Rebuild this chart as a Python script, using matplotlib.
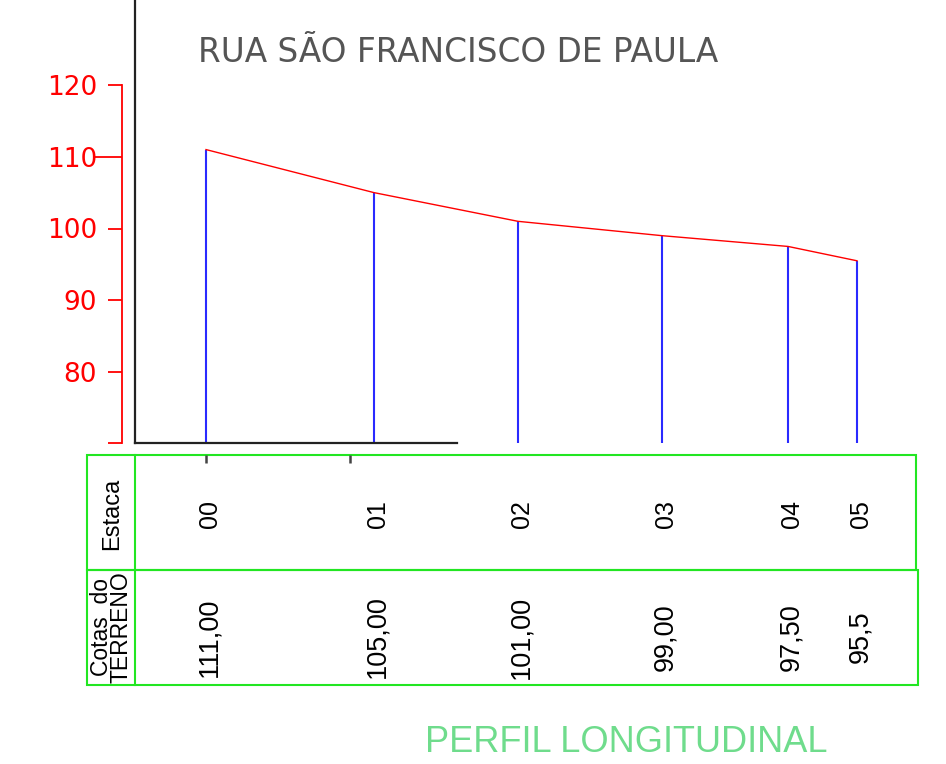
import matplotlib.pyplot as plt
from matplotlib.patches import Rectangle
from matplotlib.transforms import blended_transform_factory

# dados do perfil
estacas = ['00', '01', '02', '03', '04', '05']
distancias = [0, 28, 52, 76, 97, 108.5]
cotas = [111.0, 105.0, 101.0, 99.0, 97.5, 95.5]
cotas_txt = ['111,00', '105,00', '101,00', '99,00', '97,50', '95,5']
yticks = [80, 90, 100, 110, 120]

plt.rcParams['font.family'] = 'DejaVu Sans'

W, H = 946, 764
fig = plt.figure(figsize=(W / 100, H / 100), dpi=100)

# eixo em pixels para a tabela e textos
tab = fig.add_axes([0, 0, 1, 1], zorder=0)
tab.set_xlim(0, W)
tab.set_ylim(H, 0)
tab.axis('off')

# eixo do perfil
y0 = 80 - (443 - 372) / 7.175
y1 = 120 + 85 / 7.175
x0 = -(206 - 135) / 6
x1 = (W - 206) / 6
ax = fig.add_axes([135 / W, (H - 443) / H, (W - 135) / W, 443 / H], zorder=1)
ax.set_facecolor('none')
ax.set_xlim(x0, x1)
ax.set_ylim(y0, y1)
ax.set_xticks([])
ax.set_yticks([])
ax.spines['top'].set_visible(False)
ax.spines['right'].set_visible(False)
ax.spines['left'].set_color('#222222')
ax.spines['left'].set_linewidth(1.6)
ax.spines['bottom'].set_color('#222222')
ax.spines['bottom'].set_linewidth(1.6)
ax.spines['bottom'].set_bounds(x0, (457 - 206) / 6)

ax.vlines(distancias, y0, cotas, color='#2a2aff', lw=1.5)
ax.plot(distancias, cotas, color='red', lw=1.0)

# eixo vermelho de cotas
sec = ax.secondary_yaxis(-13 / (W - 135))
sec.spines['left'].set_color('red')
sec.spines['left'].set_linewidth(1.3)
sec.spines['left'].set_bounds(y0, 120)
sec.set_yticks([y0] + yticks, labels=[''] + [str(v) for v in yticks])
sec.tick_params(axis='y', colors='red', length=10, width=1.3, pad=8, labelsize=19)
sec.yaxis.get_major_ticks()[4].tick1line.set_markersize(19.5)

# marcas abaixo do eixo
secx = ax.secondary_xaxis(-(455 - 443) / 443)
secx.spines['bottom'].set_visible(False)
secx.set_xticks([0, 24], labels=['', ''])
secx.tick_params(axis='x', colors='#444444', length=6, width=1.8)

# tabela
verde = '#22e622'
tab.add_patch(Rectangle((87, 455), 829, 115, fill=False, ec=verde, lw=1.5))
tab.add_patch(Rectangle((87, 570), 831, 115, fill=False, ec=verde, lw=1.5))
tab.plot([135, 135], [455, 685], color=verde, lw=1.5)

tab.text(112, 514, 'Estaca', rotation=90, ha='center', va='center',
         fontsize=17, family='Liberation Sans')
tab.text(111, 627, 'Cotas  do\nTERRENO', rotation=90, ha='center', va='center',
         fontsize=16.5, family='Liberation Sans', linespacing=0.82)

trans = blended_transform_factory(ax.transData, tab.transData)
for d, e, c in zip(distancias, estacas, cotas_txt):
    tab.text(d + 0.6, 514, e, rotation=90, ha='center', va='center',
             fontsize=18, family='Liberation Sans', transform=trans)
    tab.text(d + 0.6, 637, c, rotation=90, ha='center', va='center',
             fontsize=19.5, family='Liberation Sans', transform=trans)

tab.text(198, 53, 'RUA SÃO FRANCISCO DE PAULA', va='center', ha='left',
         color='#555555', fontsize=23.6, family='DejaVu Sans')
tab.text(425, 752, 'PERFIL LONGITUDINAL', va='baseline', ha='left',
         color='#6fdc8c', fontsize=26, family='Liberation Sans')

plt.savefig('out.png', dpi=100)
